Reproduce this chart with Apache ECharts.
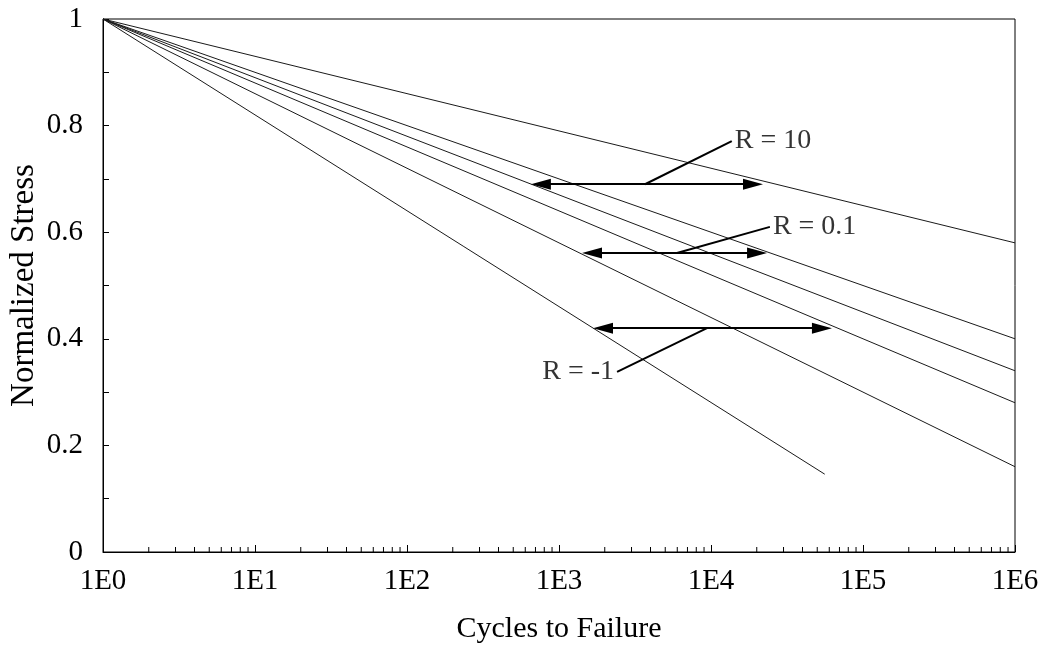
<!DOCTYPE html>
<html>
<head>
<meta charset="utf-8">
<script src="https://cdn.jsdelivr.net/npm/echarts@6/dist/echarts.min.js"></script>
<style>
  html, body { margin: 0; padding: 0; background: #fff; }
  #chart { width: 1045px; height: 646px; }
</style>
</head>
<body>
<div id="chart"></div>
<script>
// S-N curves: every line starts at (1 cycle, stress 1) and falls linearly in log(N)
const startCycles = 1;
const startStress = 1;
const endCycles = [1e6, 1e6, 1e6, 1e6, 1e6, 56000];
const endStress = [0.58, 0.40, 0.34, 0.28, 0.16, 0.146];

// Bracket arrows marking the spread of each R-ratio family (arrowhead centres)
const arrowStress = [0.690, 0.561, 0.420];
const arrowFrom = [760, 1648, 1947];
const arrowTo = [18900, 20100, 53700];
const leaderFrom = [[3680, 0.690], [5970, 0.561], [9410, 0.420]];
const leaderTo = [[13700, 0.771], [24400, 0.610], [2410, 0.338]];
const labelText = ['R = 10', 'R = 0.1', 'R = -1'];
const labelSide = ['right', 'right', 'left'];

// Axis ticks
const yTicks = [0, 0.2, 0.4, 0.6, 0.8, 1];
const decades = [0, 1, 2, 3, 4, 5, 6];

const FONT = '"Liberation Serif", "Times New Roman", serif';

const minorX = [];
for (let k = 0; k < decades.length - 1; k++) {
  for (let m = 2; m <= 9; m++) minorX.push([m * Math.pow(10, decades[k]), 0]);
}

const curveSeries = endCycles.map((c, i) => ({
  type: 'line',
  data: [[startCycles, startStress], [c, endStress[i]]],
  showSymbol: false,
  symbol: 'none',
  silent: true,
  lineStyle: { color: '#1a1a1a', width: 1 },
  z: 2
}));

const arrowSeries = {
  type: 'line',
  data: [],
  silent: true,
  markLine: {
    silent: true,
    animation: false,
    label: { show: false },
    lineStyle: { color: '#000', width: 2, type: 'solid' },
    data: arrowStress.map((y, i) => [
      { coord: [arrowFrom[i], y], symbol: 'triangle', symbolSize: [11, 20], symbolRotate: 90 },
      { coord: [arrowTo[i], y], symbol: 'triangle', symbolSize: [11, 20], symbolRotate: -90 }
    ]).concat(leaderFrom.map((p, i) => [
      { coord: p, symbol: 'none' },
      { coord: leaderTo[i], symbol: 'none' }
    ]))
  },
  z: 3
};

const labelSeries = {
  type: 'scatter',
  silent: true,
  symbolSize: 0,
  data: leaderTo.map((p, i) => ({
    value: p,
    label: {
      show: true,
      formatter: labelText[i],
      position: labelSide[i],
      distance: 3,
      fontFamily: FONT,
      fontSize: 28,
      color: '#000'
    }
  })),
  z: 4
};

const minorTickSeries = {
  type: 'custom',
  silent: true,
  data: minorX,
  renderItem: function (params, api) {
    const p = api.coord([api.value(0), 0]);
    return {
      type: 'line',
      shape: { x1: p[0], y1: p[1], x2: p[0], y2: p[1] - 5 },
      style: { stroke: '#000', lineWidth: 1 }
    };
  },
  z: 5
};

const chart = echarts.init(document.getElementById('chart'), null, { renderer: 'canvas' });
chart.setOption({
  animation: false,
  backgroundColor: '#fff',
  grid: {
    left: 103, right: 30, top: 19, bottom: 94,
    outerBoundsMode: 'none',
    containLabel: false,
    show: true, borderColor: '#000', borderWidth: 1, backgroundColor: 'transparent'
  },
  xAxis: {
    type: 'log',
    logBase: 10,
    min: Math.pow(10, decades[0]),
    max: Math.pow(10, decades[decades.length - 1]),
    name: 'Cycles to Failure',
    nameLocation: 'middle',
    nameGap: 62,
    nameMoveOverlap: false,
    nameTextStyle: { fontFamily: FONT, fontSize: 30, color: '#000' },
    axisLine: { show: true, lineStyle: { color: '#000', width: 1 } },
    axisTick: { show: true, inside: true, length: 7, lineStyle: { color: '#000' } },
    minorTick: { show: false },
    splitLine: { show: false },
    axisLabel: {
      fontFamily: FONT, fontSize: 29, color: '#000', margin: 15,
      formatter: v => '1E' + Math.round(Math.log10(v))
    }
  },
  yAxis: {
    type: 'value',
    min: yTicks[0],
    max: yTicks[yTicks.length - 1],
    interval: 0.2,
    name: 'Normalized Stress',
    nameLocation: 'middle',
    nameRotate: 90,
    nameGap: 62,
    nameMoveOverlap: false,
    nameTextStyle: { fontFamily: FONT, fontSize: 33, color: '#000' },
    axisLine: { show: true, lineStyle: { color: '#000', width: 1 } },
    axisTick: { show: true, inside: true, length: 6, lineStyle: { color: '#000' } },
    minorTick: { show: true, splitNumber: 2, length: 6, lineStyle: { color: '#000' } },
    splitLine: { show: false },
    axisLabel: {
      fontFamily: FONT, fontSize: 29, color: '#000', margin: 20,
      formatter: v => String(+v.toFixed(1))
    }
  },
  series: curveSeries.concat([arrowSeries, labelSeries, minorTickSeries])
});
</script>
</body>
</html>
